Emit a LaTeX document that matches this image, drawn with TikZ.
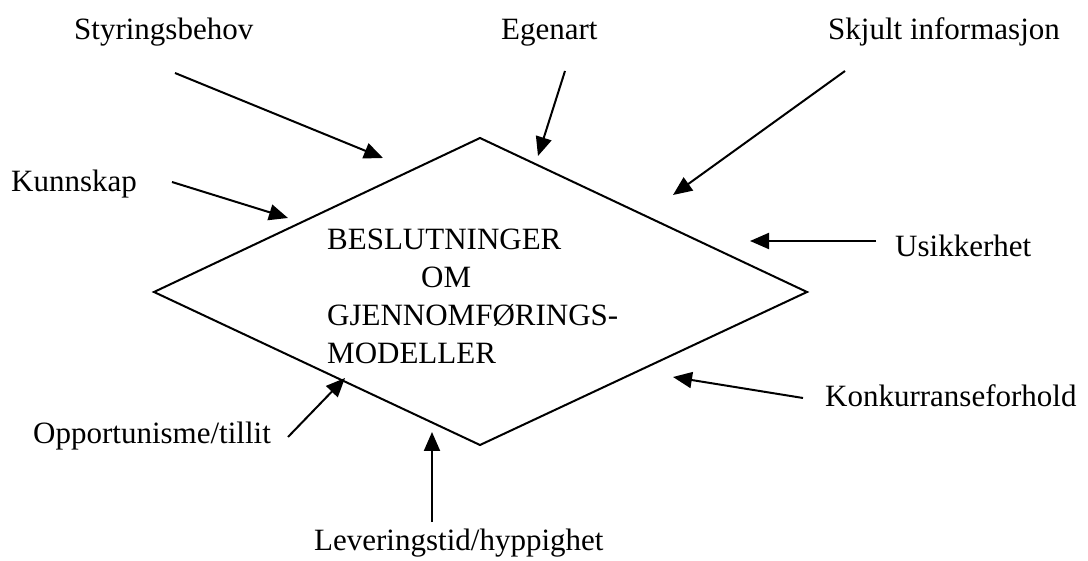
\documentclass[tikz,border=0pt]{standalone}
\usepackage{fontspec}
\setmainfont{Liberation Serif}
\usetikzlibrary{arrows.meta}
\begin{document}
\begin{tikzpicture}[x=1pt,y=-1pt,
  lbl/.style={anchor=base west,inner sep=0pt,font=\fontsize{31}{37}\selectfont},
  arr/.style={line width=2pt,-{Triangle[length=19pt,width=16pt]}},
  edge/.style={line width=2pt,line join=miter}]
\useasboundingbox (0,0) rectangle (1088,561);
\fill[white] (0,0) rectangle (1088,561);
% diamond
\coordinate (L) at (154,292);
\coordinate (T) at (480,138);
\coordinate (R) at (807,292);
\coordinate (B) at (480,445);
\draw[edge] (L) -- (T) -- (R) -- (B) -- cycle;
% centre text
\node[lbl] (c1) at (327,250) {BESLUTNINGER};
\node[lbl] (c2) at (421,288) {OM};
\node[lbl] (c3) at (327,326) {GJENNOMFØRINGS-};
\node[lbl] (c4) at (327,364) {MODELLER};
% labels
\node[lbl] (styr) at (74,40) {Styringsbehov};
\node[lbl] (egen) at (501,40) {Egenart};
\node[lbl] (skj) at (828,40) {Skjult informasjon};
\node[lbl] (kunn) at (11,192) {Kunnskap};
\node[lbl] (usik) at (895,257) {Usikkerhet};
\node[lbl] (konk) at (825,407) {Konkurranseforhold};
\node[lbl] (opp) at (33,444) {Opportunisme/tillit};
\node[lbl] (lev) at (314,550) {Leveringstid/hyppighet};
% arrow tails and tips
\coordinate (a1) at (175,73);  \coordinate (b1) at (383,158);
\coordinate (a2) at (565,71);  \coordinate (b2) at (538,156);
\coordinate (a3) at (845,71);  \coordinate (b3) at (673,195);
\coordinate (a4) at (172,182); \coordinate (b4) at (288,218);
\coordinate (a5) at (876,241); \coordinate (b5) at (750,241);
\coordinate (a6) at (803,398); \coordinate (b6) at (673,377);
\coordinate (a7) at (288,437); \coordinate (b7) at (345,378);
\coordinate (a8) at (432,522); \coordinate (b8) at (432,432);
\draw[arr] (a1) -- (b1);
\draw[arr] (a2) -- (b2);
\draw[arr] (a3) -- (b3);
\draw[arr] (a4) -- (b4);
\draw[arr] (a5) -- (b5);
\draw[arr] (a6) -- (b6);
\draw[arr] (a7) -- (b7);
\draw[arr] (a8) -- (b8);
\end{tikzpicture}
\end{document}
